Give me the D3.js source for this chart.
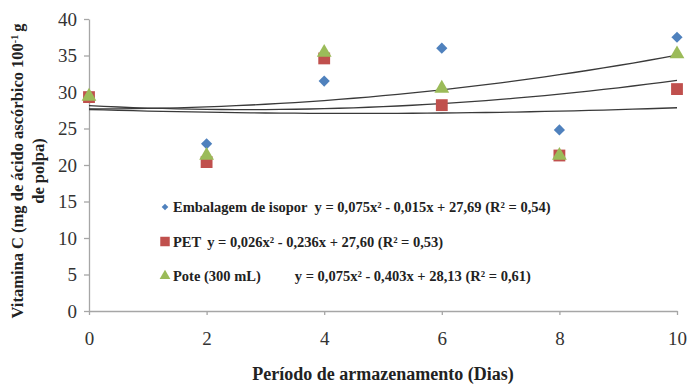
<!DOCTYPE html>
<html>
<head>
<meta charset="utf-8">
<script src="https://cdn.jsdelivr.net/npm/d3@7"></script>
<style>
  body { margin: 0; background: #fff; }
</style>
</head>
<body>
<div class="chart"></div>
<script>
// data
var days = [0, 2, 4, 6, 8, 10];
var isopor = [29.3, 22.9, 31.5, 36.0, 24.8, 37.5];
var pet = [29.3, 20.4, 34.6, 28.2, 21.3, 30.4];
var pote = [29.4, 21.3, 35.4, 30.5, 21.3, 35.2];
var yTicks = [0, 5, 10, 15, 20, 25, 30, 35, 40];
var xTicks = [0, 2, 4, 6, 8, 10];

// trend equation coefficients [a, b, c] : y = a x^2 + b x + c
var isoporFit = [0.075, -0.015, 27.69];
var petFit = [0.026, -0.236, 27.60];
var poteFit = [0.075, -0.403, 28.13];

var seriesNames = ["Embalagem de isopor", "PET", "Pote (300 mL)"];
var equations = [
    "y = 0,075x² - 0,015x + 27,69 (R² = 0,54)",
    "y = 0,026x² - 0,236x + 27,60 (R² = 0,53)",
    "y = 0,075x² - 0,403x + 28,13 (R² = 0,61)"
];

var config = {};
config.svg = { width: 688, height: 385 };
config.margin = { top: 19, right: 11, bottom: 74, left: 89 };
config.plot = {
    width: config.svg.width - config.margin.left - config.margin.right,
    height: config.svg.height - config.margin.top - config.margin.bottom
};

var serif = "'Liberation Serif'";
var translate = (x, y) => "translate(" + x + "," + y + ")";

var svg = d3.select("body").append("svg")
    .attr("width", config.svg.width)
    .attr("height", config.svg.height)
    .append("g")
    .attr("transform", translate(config.margin.left, config.margin.top));

var x = d3.scaleLinear().domain([0, 10]).range([0, config.plot.width]);
var y = d3.scaleLinear().domain([0, 40]).range([config.plot.height, 0]);

// axes
var yAxis = d3.axisLeft(y).tickValues(yTicks).tickSize(5).tickSizeOuter(0).tickPadding(7);
var xAxis = d3.axisBottom(x).tickValues(xTicks).tickSize(4).tickSizeOuter(0).tickPadding(17);

var gy = svg.append("g").attr("class", "y axis").call(yAxis);
var gx = svg.append("g").attr("class", "x axis")
    .attr("transform", translate(0, config.plot.height)).call(xAxis);

[gx, gy].forEach(g => {
    g.attr("font-family", serif).attr("font-size", 19);
    g.select(".domain").attr("stroke", "#a6a6a6").attr("stroke-width", 1.3);
    g.selectAll(".tick line").attr("stroke", "#a6a6a6").attr("stroke-width", 1.3);
    g.selectAll(".tick text")
        .attr("font-family", serif)
        .attr("font-size", 19)
        .attr("fill", "#333");
});

// trend curves
var samples = d3.range(0, 10.01, 0.25);
var line = d3.line().x(d => x(d[0])).y(d => y(d[1]));
[isoporFit, petFit, poteFit].forEach(c => {
    svg.append("path")
        .datum(samples.map(t => [t, c[0] * t * t + c[1] * t + c[2]]))
        .attr("d", line)
        .attr("fill", "none")
        .attr("stroke", "#3a3a3a")
        .attr("stroke-width", 1.3);
});

// markers
var colors = ["#4f81bd", "#c0504d", "#9bbb59"];
var shapes = [d3.symbolDiamond2, d3.symbolSquare, d3.symbolTriangle];
var sizes = [80, 140, 95];
var allSeries = [isopor, pet, pote];

allSeries.forEach((vals, i) => {
    var sym = d3.symbol().type(shapes[i]).size(sizes[i]);
    svg.append("g").selectAll("path")
        .data(vals)
        .enter().append("path")
        .attr("d", sym)
        .attr("transform", (d, j) => translate(x(days[j]), y(d)))
        .attr("fill", colors[i]);
});

// legend
var legend = svg.append("g").attr("transform", translate(76, 188));
var legendSizes = [28, 90, 50];
var rowGap = 34.5;
seriesNames.forEach((name, i) => {
    var row = legend.append("g").attr("transform", translate(0, i * rowGap));
    row.append("path")
        .attr("d", d3.symbol().type(shapes[i]).size(legendSizes[i]))
        .attr("fill", colors[i]);
    var t = row.append("text")
        .attr("x", 8)
        .attr("dy", "0.35em")
        .attr("font-family", serif)
        .attr("font-size", 14.5)
        .attr("fill", "#222")
        .attr("font-weight", "bold");
    t.append("tspan").text(name);
    t.append("tspan").attr("dx", i === 2 ? 34 : 7).text(equations[i]);
});

// axis titles
svg.append("text")
    .attr("x", 294)
    .attr("y", 361)
    .attr("text-anchor", "middle")
    .attr("font-family", serif)
    .attr("font-size", 18)
    .attr("font-weight", "bold")
    .attr("fill", "#222")
    .text("Período de armazenamento (Dias)");

var yt = svg.append("g").attr("transform", translate(-66, 152));
var ytt = yt.append("text")
    .attr("transform", "rotate(-90)")
    .attr("text-anchor", "middle")
    .attr("font-family", serif)
    .attr("font-size", 16.5)
    .attr("font-weight", "bold")
    .attr("fill", "#222");
ytt.append("tspan").attr("x", 0).attr("y", 0).text("Vitamina C (mg de ácido ascórbico 100")
    .append("tspan").attr("baseline-shift", "super").attr("font-size", 10).text("-1");
ytt.append("tspan").attr("dx", 3).text("g");
ytt.append("tspan").attr("x", 0).attr("y", 21).text("de polpa)");
</script>
</body>
</html>
